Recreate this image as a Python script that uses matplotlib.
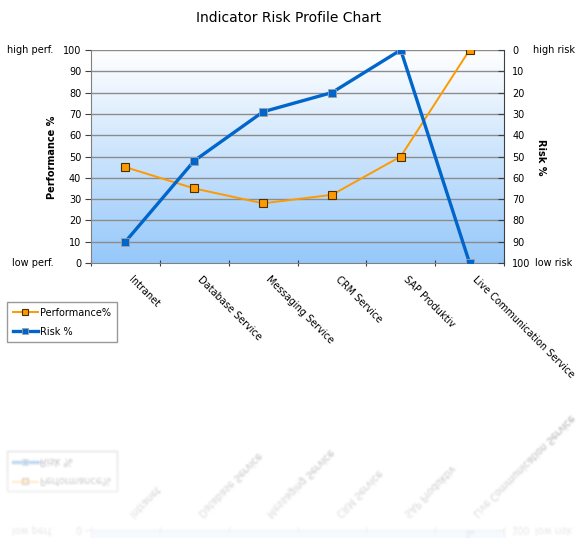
import numpy as np
import matplotlib
matplotlib.use("Agg")
import matplotlib.pyplot as plt
from matplotlib.lines import Line2D

categories = ["Intranet", "Database Service", "Messaging Service", "CRM Service",
              "SAP Produktiv", "Live Communication Service"]
performance = [45, 35, 28, 32, 50, 100]
risk = [90, 52, 29, 20, 0, 100]
left_ticks = [0, 10, 20, 30, 40, 50, 60, 70, 80, 90, 100]

W, H = 577, 538
fig = plt.figure(figsize=(W / 100, H / 100), dpi=100)
fig.patch.set_facecolor("white")
plt.rcParams['font.family'] = ['DejaVu Sans']
FS = 7

L, R, T, B = 91, 504, 50, 263
ax = fig.add_axes([L / W, 1 - B / H, (R - L) / W, (B - T) / H])
n = len(categories)
x = np.arange(n)
ax.set_xlim(-0.5, n - 0.5)
ax.set_ylim(0, 100)

# gradient background
grad = np.linspace(0, 1, 256)[:, None]
top = np.array([1.0, 1.0, 1.0])
bot = np.array([150, 200, 250]) / 255
img = top[None, None, :] * (1 - grad[:, :, None]) + bot[None, None, :] * grad[:, :, None]
ax.imshow(img, extent=[-0.5, n - 0.5, 0, 100], origin="upper", aspect="auto", zorder=0)

for v in left_ticks[1:]:
    ax.axhline(v, color="#8c8c8c", lw=1.0, zorder=1)

ax.plot(x, performance, color="#FF9900", lw=1.4, marker="s", ms=6,
        mfc="#FF9900", mec="#4a3000", mew=0.8, zorder=3, label="Performance%")

ax2 = ax.twinx()
ax2.set_ylim(100, 0)
ax2.plot(x, risk, color="#0066CC", lw=2.4, marker="s", ms=6,
         mfc="#0066CC", mec="#a0a0a0", mew=0.6, zorder=4, label="Risk %")

for a in (ax, ax2):
    for s in a.spines.values():
        s.set_visible(False)
ax.spines["left"].set_visible(True)
ax.spines["left"].set_color("#808080")
ax.spines["bottom"].set_visible(True)
ax.spines["bottom"].set_color("#808080")
ax2.spines["right"].set_visible(True)
ax2.spines["right"].set_color("#404040")

ax.set_yticks(left_ticks)
ax.set_yticklabels([str(v) for v in left_ticks], fontsize=FS)
ax2.set_yticks(left_ticks)
ax2.set_yticklabels([str(v) for v in left_ticks], fontsize=FS)
ax.tick_params(axis="y", length=4, color="#404040", pad=3, direction="out")
ax2.tick_params(axis="y", length=4, color="#404040", pad=6, direction="in")

ax.set_xticks(np.arange(n + 1) - 0.5)
ax.set_xticklabels([])
ax.tick_params(axis="x", length=5, color="#404040", direction="inout")
for i, c in enumerate(categories):
    ax.annotate(c, xy=(i, 0), xycoords=("data", "data"), xytext=(6, -8),
                textcoords="offset points", rotation=-45, ha="left", va="top",
                rotation_mode="anchor", fontsize=FS)

fig.text(0.5, 1 - 18 / H, "Indicator Risk Profile Chart", ha="center", va="center", fontsize=10)
fig.text(52 / W, 1 - 157 / H, "Performance %", rotation=90, ha="center", va="center",
         fontsize=FS, fontweight="bold")
fig.text(541 / W, 1 - 157 / H, "Risk %", rotation=-90, ha="center", va="center",
         fontsize=FS, fontweight="bold")
fig.text(7 / W, 1 - 50 / H, "high perf.", ha="left", va="center", fontsize=FS)
fig.text(12 / W, 1 - 263 / H, "low perf.", ha="left", va="center", fontsize=FS)
fig.text(533 / W, 1 - 50 / H, "high risk", ha="left", va="center", fontsize=FS)
fig.text(535 / W, 1 - 263 / H, "low risk", ha="left", va="center", fontsize=FS)

handles = [Line2D([], [], color="#FF9900", lw=1.4, marker="s", ms=5, mfc="#FF9900", mec="#4a3000", mew=0.8),
           Line2D([], [], color="#0066CC", lw=2.4, marker="s", ms=5, mfc="#0066CC", mec="#a0a0a0", mew=0.6)]
leg = fig.legend(handles, ["Performance%", "Risk %"], loc="upper left",
                 bbox_to_anchor=(7 / W, 1 - 302 / H), fontsize=FS, frameon=True,
                 fancybox=False, edgecolor="#808080", handlelength=2.6, handletextpad=0.2,
                 borderpad=0.6, labelspacing=0.9, borderaxespad=0)
leg.get_frame().set_linewidth(1.0)

# reflection
fig.canvas.draw()
buf = np.asarray(fig.canvas.buffer_rgba()).astype(float) / 255
r0, r1 = 256, 397
region = buf[r0:r1, :, :3][::-1]
pad = np.pad(region, ((1, 1), (1, 1), (0, 0)), mode="edge")
blur = sum(pad[i:i + region.shape[0], j:j + region.shape[1]] for i in range(3) for j in range(3)) / 9
alpha = np.linspace(0.4, 0.08, blur.shape[0])[:, None, None]
refl = 1 - (1 - blur) * alpha
refl_rgba = np.concatenate([refl, np.ones(refl.shape[:2] + (1,))], axis=2)
fig.figimage(refl_rgba, xo=0, yo=H - (r1 + refl.shape[0]), origin="upper", zorder=10)

fig.savefig("out.png", dpi=100)
